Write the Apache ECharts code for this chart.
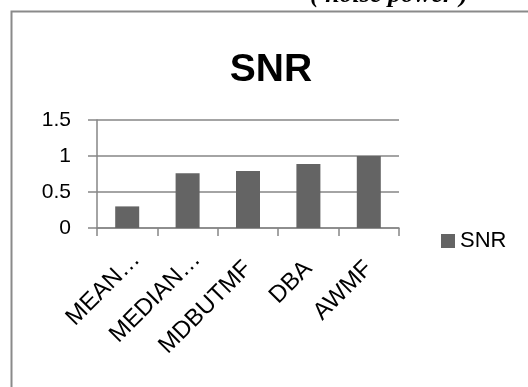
<!DOCTYPE html>
<html>
<head>
<meta charset="utf-8">
<script src="https://cdn.jsdelivr.net/npm/echarts@6/dist/echarts.min.js"></script>
<style>
  html, body { margin: 0; padding: 0; background: #fff; }
  #chart { width: 528px; height: 387px; }
</style>
</head>
<body>
<div id="chart"></div>
<script>
// Filter names along the category axis
const categories = ['MEAN…', 'MEDIAN…', 'MDBUTMF', 'DBA', 'AWMF'];
// SNR value for each filter
const snrValues = [0.3, 0.76, 0.79, 0.89, 1.0];
const seriesName = 'SNR';
const yTicks = { min: 0, max: 1.5, interval: 0.5 };

const chart = echarts.init(document.getElementById('chart'), null, { renderer: 'canvas' });

const axisGray = '#868686';
const labelFont = '"Liberation Sans", Arial, sans-serif';

chart.setOption({
  animation: false,
  backgroundColor: '#fff',
  title: {
    text: 'SNR',
    left: 266,
    top: 46,
    textAlign: 'center',
    textStyle: { fontFamily: labelFont, fontWeight: 'bold', fontSize: 39, color: '#000' }
  },
  legend: {
    data: [seriesName],
    left: 441,
    top: 230,
    padding: 0,
    itemWidth: 14,
    itemHeight: 14,
    icon: 'rect',
    textStyle: { fontFamily: labelFont, fontSize: 22, color: '#000' }
  },
  grid: { left: 97, right: 129, top: 120, bottom: 159, containLabel: false },
  xAxis: {
    type: 'category',
    data: categories,
    axisLine: { show: true, lineStyle: { color: axisGray, width: 1.5 } },
    axisTick: { show: true, length: 8, alignWithLabel: false, lineStyle: { color: axisGray, width: 1.5 } },
    axisLabel: {
      interval: 0,
      rotate: 45,
      margin: 37,
      fontFamily: labelFont,
      fontSize: 24,
      color: '#000',
      // shortened names run a little past their slot
      formatter: v => (v.endsWith('…') ? '{cut|' + v + '}' : v),
      rich: {
        cut: { fontFamily: labelFont, fontSize: 24, color: '#000', padding: [0, -13, 0, 0] }
      }
    }
  },
  yAxis: {
    type: 'value',
    min: yTicks.min,
    max: yTicks.max,
    interval: yTicks.interval,
    axisLine: { show: true, lineStyle: { color: axisGray, width: 1.5 } },
    axisTick: { show: true, length: 9, lineStyle: { color: axisGray, width: 1.5 } },
    splitLine: { show: true, lineStyle: { color: axisGray, width: 1.5 } },
    axisLabel: {
      margin: 26,
      fontFamily: labelFont,
      fontSize: 21,
      color: '#000',
      formatter: v => String(v)
    }
  },
  series: [{
    name: seriesName,
    type: 'bar',
    data: snrValues,
    barWidth: 24,
    itemStyle: { color: '#646464' }
  }],
  graphic: [
    {
      type: 'text',
      left: 310,
      top: -18,
      style: {
        text: '( noise power )',
        font: 'italic bold 26px "Liberation Serif", "Times New Roman", serif',
        fill: '#000'
      },
      silent: true
    },
    {
      type: 'rect',
      left: 9,
      top: 9,
      shape: { x: 0, y: 0, width: 540, height: 400 },
      style: { fill: null, stroke: '#8a8a8a', lineWidth: 2 },
      silent: true
    }
  ]
});
</script>
</body>
</html>
